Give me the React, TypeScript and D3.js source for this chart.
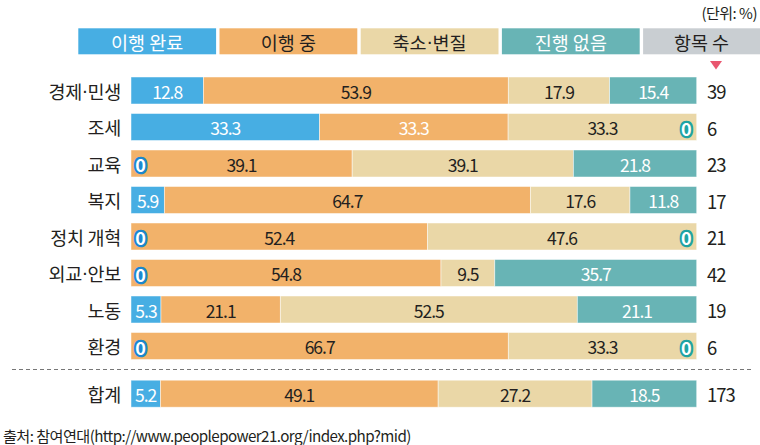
import React from "react";
import * as d3 from "d3";

const categories = ["경제·민생", "조세", "교육", "복지", "정치 개혁", "외교·안보", "노동", "환경"];
const seriesNames = ["이행 완료", "이행 중", "축소·변질", "진행 없음"];
const done = [12.8, 33.3, 0, 5.9, 0, 0, 5.3, 0];
const ongoing = [53.9, 33.3, 39.1, 64.7, 52.4, 54.8, 21.1, 66.7];
const reduced = [17.9, 33.3, 39.1, 17.6, 47.6, 9.5, 52.5, 33.3];
const none = [15.4, 0, 21.8, 11.8, 0, 35.7, 21.1, 0];
const counts = [39, 6, 23, 17, 21, 42, 19, 6];
const totalLabel = "합계";
const totalValues = [5.2, 49.1, 27.2, 18.5];
const totalCount = 173;
const countHeader = "항목 수";
const unitText = "(단위: %)";
const sourceText = "출처: 참여연대(http://www.peoplepower21.org/index.php?mid)";
// segments whose label is drawn in white although the series normally uses dark text
const whiteLabelOverrides = [{ row: 1, series: 1 }];

const colors = ["#47aee3", "#f2b26a", "#ead7a7", "#68b4b5"];
const labelColors = ["#ffffff", "#231f20", "#231f20", "#ffffff"];
const legendTextColors = ["#ffffff", "#231f20", "#231f20", "#ffffff"];
const gray = "#c9ced2";
const dark = "#231f20";
const FONT = "'Noto Sans CJK KR', 'Noto Sans', sans-serif";

// render a label with a narrow middle dot
function dotted(s: string) {
  const parts = s.split("·");
  const out: React.ReactNode[] = [];
  parts.forEach((p, i) => {
    if (i > 0) out.push(<tspan key={"d" + i} fontFamily="'DejaVu Sans', sans-serif">·</tspan>);
    out.push(<tspan key={"p" + i}>{p}</tspan>);
  });
  return out;
}

export default function App() {
  const W = 760, H = 445;
  const x0 = 131, x1 = 696.7;
  const barH = 27;

  const rows = categories.map((c, i) => ({
    name: c,
    values: [done[i], ongoing[i], reduced[i], none[i]],
    count: counts[i],
    y: 0,
    idx: i,
  }));

  const yScale = d3.scalePoint<string>().domain(categories).range([90.5, 346]);
  const totalY = 393.7;

  const allRows = [
    ...rows.map((r) => ({ ...r, y: yScale(r.name)! })),
    { name: totalLabel, values: totalValues, count: totalCount, y: totalY, idx: -1 },
  ];

  const legendX = d3.scaleLinear().domain([0, 5]).range([78.3, 78.3 + 5 * 141.2]);

  const zero = (key: string, j: number, y: number) => {
    const zx = j === 0 ? x0 + 9.5 : x1 - 10.5;
    return (
      <text key={key} x={zx} y={y + 0.5} textAnchor="middle" dominantBaseline="central" fontSize={18} fontWeight="bold"
        fill="#fff" stroke={j === 0 ? "#1b87cf" : "#1fa3a3"} strokeWidth={4.5} strokeLinejoin="round" style={{ paintOrder: "stroke" }}>0</text>
    );
  };

  return (
    <svg width={W} height={H} style={{ position: "absolute", left: 0, top: 0 }} fontFamily={FONT}>
      <rect x={0} y={0} width={W} height={H} fill="#fff" />
      <text x={757} y={12} textAnchor="end" dominantBaseline="central" fontSize={15} letterSpacing={-0.5} fill={dark}>{unitText}</text>
      {/* legend */}
      {seriesNames.map((s, i) => {
        const lx = legendX(i);
        const lw = legendX(i + 1) - lx - 3.4;
        return (
          <g key={s}>
            <rect x={lx} y={28.3} width={lw} height={26} fill={colors[i]} />
            <text x={lx + lw / 2} y={41.6} textAnchor="middle" dominantBaseline="central" fontSize={18.5} fill={legendTextColors[i]}>{dotted(s)}</text>
          </g>
        );
      })}
      <rect x={legendX(4)} y={28.3} width={W - legendX(4)} height={26} fill={gray} />
      <text x={legendX(4) + (W - legendX(4)) / 2} y={41.6} textAnchor="middle" dominantBaseline="central" fontSize={18.5} fill={dark}>{countHeader}</text>
      <path d="M710,61 L722,61 L716,69.5 Z" fill="#e9566f" />

      {/* dashed separator */}
      <line x1={12} x2={753} y1={369.5} y2={369.5} stroke="#777" strokeDasharray="4,3" strokeWidth={1} />

      {allRows.map((r) => {
        const total = d3.sum(r.values);
        const x = d3.scaleLinear().domain([0, total]).range([x0, x1]);
        const cums = d3.cumsum(r.values);
        const top = r.y - barH / 2;
        return (
          <g key={r.name}>
            <text x={121} y={r.y} textAnchor="end" dominantBaseline="central" fontSize={18.5} letterSpacing={-0.3} fill={dark}>{dotted(r.name)}</text>
            {r.values.map((v, j) => {
              if (v === 0) return null;
              const start = cums[j] - v;
              const sx = x(start), ex = x(cums[j]);
              const white = whiteLabelOverrides.some((o) => o.row === r.idx && o.series === j);
              return (
                <g key={j}>
                  <rect x={sx} y={top} width={ex - sx} height={barH} fill={colors[j]} stroke="#fff" strokeOpacity={0.6} strokeWidth={0.8} />
                  <text x={(sx + ex) / 2} y={r.y + 0.5} textAnchor="middle" dominantBaseline="central" fontSize={17.5} letterSpacing={-1}
                    fill={white ? "#fff" : labelColors[j]}>{d3.format(".1f")(v)}</text>
                </g>
              );
            })}
            {r.values.map((v, j) => (v === 0 ? zero("z" + j, j, r.y) : null))}
            <text x={707} y={r.y + 0.5} dominantBaseline="central" fontSize={18.5} letterSpacing={-1} fill={dark}>{r.count}</text>
          </g>
        );
      })}

      <text x={3} y={434.5} dominantBaseline="central" fontSize={15.2} letterSpacing={-0.6} fill={dark}>{sourceText}</text>
    </svg>
  );
}
